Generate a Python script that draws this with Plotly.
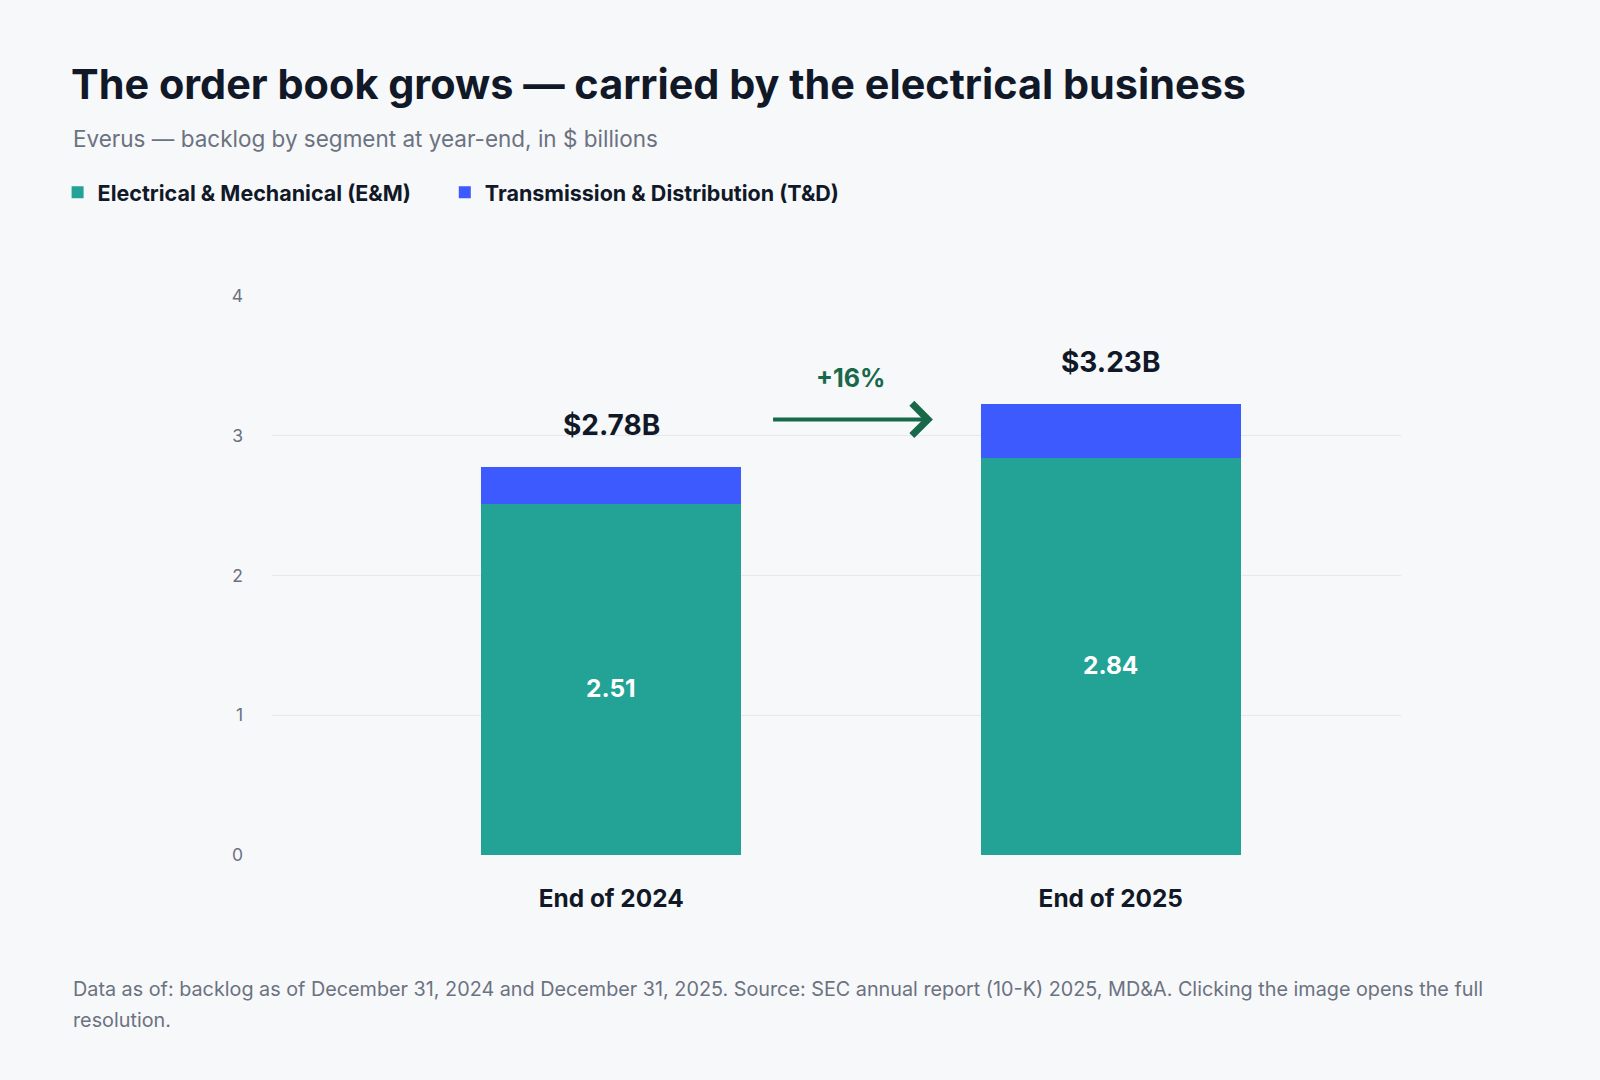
import plotly.graph_objects as go

# backlog by segment, $ billions
years = ["End of 2024", "End of 2025"]
em_backlog = [2.51, 2.84]
td_backlog = [0.27, 0.39]
totals = [2.78, 3.23]
y_ticks = [0, 1, 2, 3, 4]

green = "#22a396"
blue = "#3d5afe"
dark = "#111827"
grey = "#6b7280"
arrow_green = "#17694a"
font = "Inter, Liberation Sans, sans-serif"

fig = go.Figure()
fig.add_trace(go.Bar(
    x=years, y=em_backlog, name="Electrical & Mechanical (E&M)", legend="legend",
    showlegend=True,
    marker=dict(color=green, line=dict(width=0)), width=0.52, hoverinfo="skip"))
fig.add_trace(go.Bar(
    x=years, y=td_backlog, name="Transmission & Distribution (T&D)", legend="legend2",
    showlegend=True,
    marker=dict(color=blue, line=dict(width=0)), width=0.52, hoverinfo="skip"))

# values inside the E&M segment
for yr, v in zip(years, em_backlog):
    fig.add_annotation(x=yr, y=v / 2, text=f"{v:.2f}", showarrow=False, yshift=-8,
                       font=dict(size=24.5, color="white", family=font, weight="bold"))

# totals above bars
for yr, tot in zip(years, totals):
    fig.add_annotation(x=yr, y=tot, text=f"${tot:.2f}B", showarrow=False,
                       yanchor="bottom", yshift=23,
                       font=dict(size=28, color=dark, family=font, weight="bold"))

growth = round((totals[1] / totals[0] - 1) * 100)
fig.add_annotation(x=0.479, y=3.41, text=f"+{growth}%", showarrow=False,
                   font=dict(size=25, color=arrow_green, family=font, weight="bold"))
fig.add_annotation(x=0.644, y=3.117, ax=0.321, ay=3.117, axref="x", ayref="y",
                   text="", showarrow=True, arrowhead=4, arrowsize=1.55,
                   arrowwidth=4, arrowcolor=arrow_green)

fig.add_annotation(xref="paper", yref="paper", x=-0.178, y=1.281, xanchor="left",
                   yanchor="middle", showarrow=False,
                   text="Everus — backlog by segment at year-end, in $ billions",
                   font=dict(size=22.5, color=grey, family=font))
fig.add_annotation(xref="paper", yref="paper", x=-0.178, y=-0.240, xanchor="left",
                   yanchor="middle", showarrow=False,
                   text="Data as of: backlog as of December 31, 2024 and December 31, 2025. "
                        "Source: SEC annual report (10-K) 2025, MD&A. Clicking the image opens the full",
                   font=dict(size=19.8, color=grey, family=font))
fig.add_annotation(xref="paper", yref="paper", x=-0.178, y=-0.295, xanchor="left",
                   yanchor="middle", showarrow=False, text="resolution.",
                   font=dict(size=19.8, color=grey, family=font))

legend_style = dict(orientation="h", xref="container", yref="container", y=0.822,
                    yanchor="middle",
                    font=dict(size=21.5, color=dark, family=font, weight="bold"),
                    bgcolor="rgba(0,0,0,0)")

fig.update_layout(
    width=1600, height=1080,
    barmode="stack",
    showlegend=True,
    paper_bgcolor="#f7f8fa", plot_bgcolor="#f7f8fa",
    margin=dict(l=272, r=199, t=296, b=225),
    title=dict(text="<b>The order book grows — carried by the electrical business</b>",
               x=0.0444, xref="container", y=0.922, yref="container", yanchor="middle",
               font=dict(size=41.4, color=dark, family=font)),
    legend=dict(x=0.036, **legend_style),
    legend2=dict(x=0.278, **legend_style),
    xaxis=dict(range=[-0.679, 1.581], showgrid=False, zeroline=False, showline=False,
               ticks="", ticklabelstandoff=27,
               tickfont=dict(size=24.4, color=dark, family=font, weight="bold")),
    yaxis=dict(range=[0, 4], tickvals=y_ticks, showgrid=True, gridcolor="#e6e8ec",
               gridwidth=1, zeroline=False, showline=False, ticks="",
               ticklabelstandoff=28, tickfont=dict(size=17.5, color=grey, family=font)),
)

fig.write_html("out.html", config={"displayModeBar": False},
               post_script="document.body.style.margin='0';"
                           "document.body.style.background='#f7f8fa';")
